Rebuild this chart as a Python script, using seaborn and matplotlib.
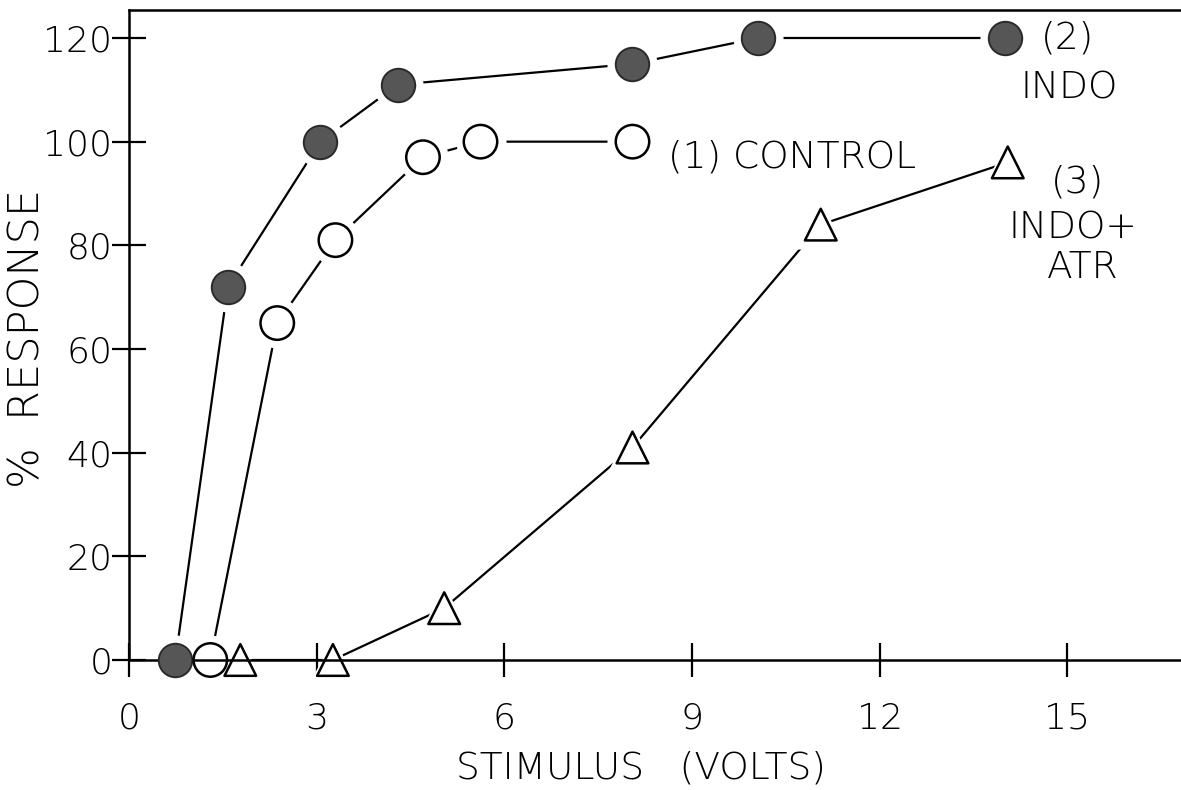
import matplotlib
matplotlib.use("Agg")
import matplotlib.pyplot as plt
import seaborn as sns
import pandas as pd

# Data
control_x = [1.3, 2.37, 3.3, 4.7, 5.62, 8.05]
control_y = [0, 65, 81, 97, 100, 100]

indo_x = [0.74, 1.58, 3.06, 4.3, 8.05, 10.06, 14.0]
indo_y = [0, 72, 100, 111, 115, 120, 120]

atr_x = [1.78, 3.26, 5.04, 8.05, 11.06, 14.05]
atr_y = [0, 0, 10, 41, 84, 96]

x_ticks = [0, 3, 6, 9, 12, 15]
y_ticks = [0, 20, 40, 60, 80, 100, 120]

sns.set_style("white")
plt.rcParams['font.family'] = ['DejaVu Sans']
plt.rcParams['font.weight'] = 'light'
plt.rcParams['axes.labelweight'] = 'light'
plt.rcParams['text.color'] = 'black'
plt.rcParams['axes.labelcolor'] = 'black'

fig = plt.figure(figsize=(11.81, 7.90), dpi=100)
ax = fig.add_axes([129 / 1181, (790 - 660) / 790, 1 - 129 / 1181, (660 - 10) / 790])

df_c = pd.DataFrame({"x": control_x, "y": control_y})
df_i = pd.DataFrame({"x": indo_x, "y": indo_y})
df_a = pd.DataFrame({"x": atr_x, "y": atr_y})

lw = 1.6
for d in (df_c, df_i, df_a):
    sns.lineplot(data=d, x="x", y="y", ax=ax, color="black", linewidth=lw,
                 estimator=None, sort=False, zorder=2)

# white halos that create the gap between lines and markers
for d, m, s in ((df_c, "o", 1300), (df_i, "o", 1300), (df_a, "^", 1200)):
    sns.scatterplot(data=d, x="x", y="y", ax=ax, marker=m, s=s, color="white",
                    edgecolor="white", linewidth=0, zorder=3, clip_on=False)

sns.scatterplot(data=df_i, x="x", y="y", ax=ax, marker="o", s=580, color="#565656",
                edgecolor="#2a2a2a", linewidth=1.4, zorder=5, clip_on=False)
sns.scatterplot(data=df_c, x="x", y="y", ax=ax, marker="o", s=580, facecolor="none",
                edgecolor="black", linewidth=1.8, zorder=5, clip_on=False)
sns.scatterplot(data=df_a, x="x", y="y", ax=ax, marker="^", s=520, facecolor="none",
                edgecolor="black", linewidth=1.8, zorder=5, clip_on=False)

ax.set_xlim(0, 16.82)
ax.set_ylim(0, 125.4)
ax.set_xticks(x_ticks)
ax.set_yticks(y_ticks)
ax.set_xticklabels([str(v) for v in x_ticks])
ax.set_yticklabels([str(v) for v in y_ticks])

for side in ("left", "bottom", "top"):
    ax.spines[side].set_visible(True)
    ax.spines[side].set_color("black")
    ax.spines[side].set_linewidth(1.8)
    ax.spines[side].set_zorder(4)
ax.spines["right"].set_visible(False)

ax.tick_params(axis="both", direction="inout", length=24, width=1.6, color="black",
               labelsize=26, labelcolor="black")
ax.tick_params(axis="x", pad=18, bottom=True)
ax.tick_params(axis="y", pad=0, left=True)

ax.set_xlabel("STIMULUS   (VOLTS)", fontsize=27, fontweight="light", color="black")
ax.xaxis.set_label_coords((641 - 129) / 1052, -(768 - 660) / 650)
ax.xaxis.label.set_va("center")
ax.set_ylabel("%  RESPONSE", fontsize=31, va="center", fontweight="light", color="black")
ax.yaxis.set_label_coords((27 - 129) / 1052, (660 - 338) / 650)

tk = dict(fontsize=27, color="black")
ax.text(14.58, 120, "(2)", ha="left", va="center", **tk)
ax.text(15.04, 110.4, "INDO", ha="center", va="center", **tk)
ax.text(8.62, 97, "(1) CONTROL", ha="left", va="center", **tk)
ax.text(15.17, 92.3, "(3)", ha="center", va="center", **tk)
ax.text(15.09, 83.4, "INDO+", ha="center", va="center", **tk)
ax.text(15.25, 75.7, "ATR", ha="center", va="center", **tk)

fig.savefig("out.png", dpi=100, facecolor="white")
